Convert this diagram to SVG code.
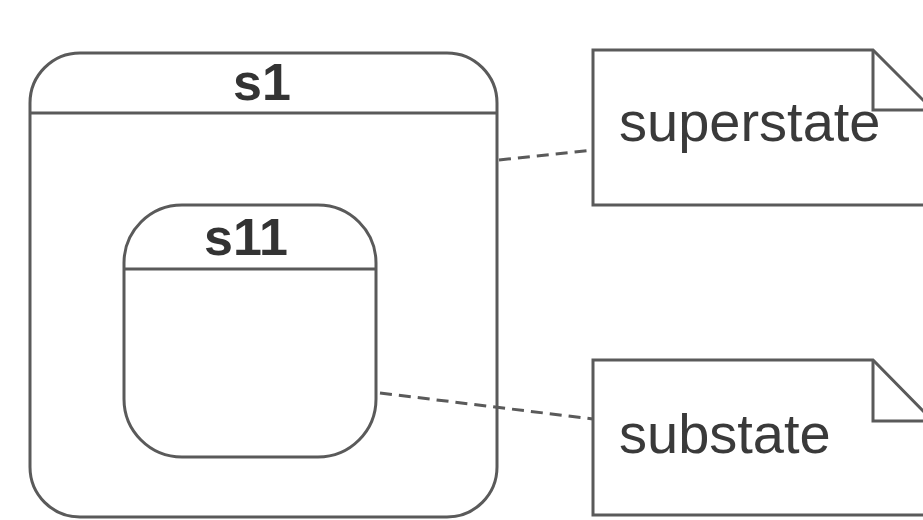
<svg xmlns="http://www.w3.org/2000/svg" width="923" height="520" viewBox="0 0 923 520">
<style>
.shape{fill:#fff;stroke:#5a5a5a;stroke-width:3}
.line{fill:none;stroke:#5a5a5a;stroke-width:3}
.dash{fill:none;stroke:#5a5a5a;stroke-width:3;stroke-dasharray:12 7}
.title{font-family:"Liberation Sans",Arial,sans-serif;font-weight:bold;font-size:52px;fill:#333;text-anchor:middle}
.note{font-family:"Liberation Sans",Arial,sans-serif;font-size:56px;fill:#3a3a3a}
</style>
<rect width="923" height="520" fill="#fff"/>
<g id="s1">
<rect class="shape" x="30" y="53" width="467" height="464" rx="50"/>
<line class="line" x1="30" y1="113" x2="497" y2="113"/>
<text class="title" x="262" y="100">s1</text>
</g>
<g id="s11">
<rect class="shape" x="124" y="205" width="252" height="252" rx="58"/>
<line class="line" x1="124" y1="269" x2="376" y2="269"/>
<text class="title" x="246" y="255">s11</text>
</g>
<g id="connectors">
<line class="dash" x1="499" y1="160" x2="593" y2="150"/>
<line class="dash" x1="380" y1="393" x2="593" y2="419"/>
</g>
<g id="note-superstate">
<path class="shape" d="M593,50 H873 L933,110 V205 H593 Z"/>
<path class="line" d="M873,50 V110 H933"/>
<text class="note" x="619" y="141">superstate</text>
</g>
<g id="note-substate">
<path class="shape" d="M593,360 H873 L933,421 V515 H593 Z"/>
<path class="line" d="M873,360 V421 H933"/>
<text class="note" x="619" y="453">substate</text>
</g>
</svg>
